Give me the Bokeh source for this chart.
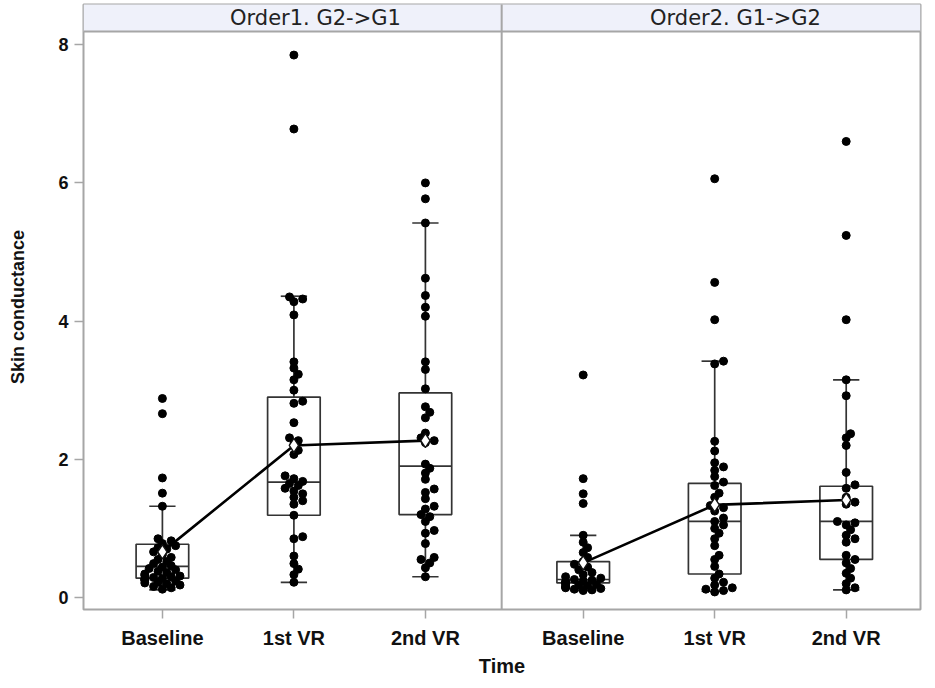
from bokeh.plotting import figure
from bokeh.models import FixedTicker, Range1d
from bokeh.core.properties import value
from bokeh.embed import file_html
from bokeh.resources import INLINE

# ---------------- data ----------------
times = ["Baseline", "1st VR", "2nd VR"]
panels = ["Order1. G2->G1", "Order2. G1->G2"]

o1_baseline = [2.88, 2.66, 1.73, 1.51, 1.32, 0.85, 0.82, 0.78, 0.75, 0.72, 0.70, 0.66,
               0.62, 0.58, 0.55, 0.52, 0.49, 0.46, 0.44, 0.42, 0.40, 0.38, 0.36, 0.34,
               0.32, 0.31, 0.30, 0.29, 0.28, 0.27, 0.26, 0.25, 0.24, 0.22, 0.21, 0.20,
               0.18, 0.16, 0.14, 0.12]
o1_vr1 = [7.85, 6.78, 4.35, 4.32, 4.28, 4.09, 3.41, 3.32, 3.23, 3.15, 3.00, 2.84, 2.81,
          2.53, 2.31, 2.27, 2.21, 2.13, 2.07, 1.76, 1.72, 1.68, 1.65, 1.62, 1.58, 1.54,
          1.50, 1.45, 1.40, 1.35, 1.19, 0.88, 0.85, 0.60, 0.49, 0.41, 0.33, 0.22]
o1_vr2 = [6.00, 5.77, 5.42, 4.62, 4.37, 4.20, 4.07, 3.41, 3.30, 3.02, 2.76, 2.68, 2.60,
          2.38, 2.31, 2.27, 2.24, 1.93, 1.87, 1.80, 1.71, 1.57, 1.52, 1.43, 1.32, 1.28,
          1.20, 1.17, 1.10, 0.97, 0.93, 0.78, 0.58, 0.55, 0.50, 0.43, 0.30]
o2_baseline = [3.22, 1.72, 1.50, 1.36, 0.90, 0.80, 0.72, 0.65, 0.58, 0.52, 0.48, 0.44,
               0.40, 0.36, 0.33, 0.30, 0.28, 0.26, 0.25, 0.24, 0.23, 0.22, 0.21, 0.20,
               0.19, 0.18, 0.17, 0.16, 0.15, 0.14, 0.13, 0.12, 0.11, 0.10]
o2_vr1 = [6.06, 4.56, 4.02, 3.42, 3.38, 2.26, 2.12, 1.95, 1.89, 1.84, 1.75, 1.67, 1.62,
          1.51, 1.45, 1.33, 1.30, 1.25, 1.15, 1.10, 1.05, 1.00, 0.93, 0.85, 0.75, 0.61,
          0.55, 0.45, 0.34, 0.28, 0.22, 0.18, 0.14, 0.12, 0.10, 0.08]
o2_vr2 = [6.60, 5.24, 4.02, 3.15, 2.92, 2.37, 2.31, 2.20, 1.81, 1.63, 1.58, 1.45, 1.38,
          1.35, 1.10, 1.08, 1.05, 0.98, 0.90, 0.85, 0.80, 0.61, 0.55, 0.50, 0.42, 0.35,
          0.28, 0.20, 0.14, 0.11]

# box statistics per panel, per time
o1_q1 = [0.28, 1.19, 1.20]
o1_med = [0.45, 1.67, 1.90]
o1_q3 = [0.77, 2.90, 2.96]
o1_lo = [0.11, 0.22, 0.30]
o1_hi = [1.32, 4.36, 5.42]
o1_mean = [0.66, 2.20, 2.27]

o2_q1 = [0.21, 0.34, 0.55]
o2_med = [0.26, 1.10, 1.10]
o2_q3 = [0.52, 1.65, 1.61]
o2_lo = [0.10, 0.09, 0.11]
o2_hi = [0.90, 3.42, 3.15]
o2_mean = [0.50, 1.34, 1.41]

y_ticks = [0, 2, 4, 6, 8]

# ---------------- layout constants ----------------
PX_X = 131.5          # pixels per x unit
PX_Y = 69.1           # pixels per y unit
X0, X1 = -0.6, 5.765
Y0, Y1 = -0.174, 8.582
DIV = 2.58
HEAD = 8.191
pos = [[0.0, 1.0, 2.0], [3.2, 4.2, 5.2]]

BOXW = 0.40
CAPW = 0.20
BOXC = "#333333"
FRAMEC = "#a6a6a6"

p = figure(width=927, height=680, output_backend="svg", toolbar_location=None,
           x_range=Range1d(X0, X1), y_range=Range1d(Y0, Y1),
           min_border_left=83, min_border_right=7, min_border_top=4,
           min_border_bottom=71)
p.xgrid.visible = False
p.ygrid.visible = False
p.background_fill_color = "white"
p.border_fill_color = "white"
p.outline_line_color = FRAMEC
p.outline_line_width = 2

# header strips
p.quad(left=[X0, DIV], right=[DIV, X1], bottom=[HEAD, HEAD], top=[Y1 + 1, Y1 + 1],
       fill_color="#eff1fa", line_color=None)
p.segment(x0=[X0], y0=[HEAD], x1=[X1], y1=[HEAD], line_color=FRAMEC, line_width=2)
p.segment(x0=[DIV], y0=[Y0 - 1], x1=[DIV], y1=[Y1 + 1], line_color=FRAMEC, line_width=2)
p.text(x=[1.164, 4.358], y=[(HEAD + Y1) / 2] * 2, text=panels,
       text_align="center", text_baseline="middle",
       text_font=value("DejaVu Sans"), text_font_size="21px", text_color="#222222")


def swarm(vals, diam=8.0):
    placed = []
    offs = [0.0] * len(vals)
    order = sorted(range(len(vals)), key=lambda i: vals[i])
    step = diam * 0.55
    for i in order:
        y = vals[i] * PX_Y
        for k in [0, 1, -1, 2, -2, 3, -3, 4, -4]:
            x = k * step
            if all((x - px) ** 2 + (y - py) ** 2 >= (diam * 0.7) ** 2 for px, py in placed):
                break
        placed.append((x, y))
        offs[i] = x / PX_X
    return offs


groups = [
    ([o1_baseline, o1_vr1, o1_vr2], o1_q1, o1_med, o1_q3, o1_lo, o1_hi, o1_mean),
    ([o2_baseline, o2_vr1, o2_vr2], o2_q1, o2_med, o2_q3, o2_lo, o2_hi, o2_mean),
]

for gi, (pts, q1, med, q3, lo, hi, mn) in enumerate(groups):
    xs = pos[gi]
    # boxes
    p.quad(left=[x - BOXW / 2 for x in xs], right=[x + BOXW / 2 for x in xs],
           bottom=q1, top=q3, fill_color=None, line_color=BOXC, line_width=1.7)
    p.segment(x0=[x - BOXW / 2 for x in xs], x1=[x + BOXW / 2 for x in xs],
              y0=med, y1=med, line_color=BOXC, line_width=1.7)
    # whiskers
    p.segment(x0=xs, x1=xs, y0=q3, y1=hi, line_color=BOXC, line_width=1.7)
    p.segment(x0=xs, x1=xs, y0=lo, y1=q1, line_color=BOXC, line_width=1.7)
    p.segment(x0=[x - CAPW / 2 for x in xs], x1=[x + CAPW / 2 for x in xs],
              y0=hi, y1=hi, line_color=BOXC, line_width=1.7)
    p.segment(x0=[x - CAPW / 2 for x in xs], x1=[x + CAPW / 2 for x in xs],
              y0=lo, y1=lo, line_color=BOXC, line_width=1.7)
    # points
    for ti, vals in enumerate(pts):
        offs = swarm(vals)
        p.scatter(x=[xs[ti] + o for o in offs], y=vals, size=8,
                  fill_color="black", line_color="black")
    # mean line and markers
    p.line(x=xs, y=mn, line_color="black", line_width=2.6)
    p.scatter(x=xs, y=mn, marker="diamond", size=14, fill_color="white",
              fill_alpha=1.0, line_color="#111111", line_width=1.4)

# axes
p.xaxis.ticker = FixedTicker(ticks=pos[0] + pos[1])
p.xaxis.major_label_overrides = {
    0: times[0], 1: times[1], 2: times[2],
    3.2: times[0], 4.2: times[1], 5.2: times[2]}
p.yaxis.ticker = FixedTicker(ticks=y_ticks)
for ax in (p.xaxis[0], p.yaxis[0]):
    ax.axis_line_color = None
    ax.major_tick_line_color = FRAMEC
    ax.major_tick_line_width = 1.5
    ax.major_tick_in = 0
    ax.minor_tick_line_color = None
    ax.major_label_text_font = "Liberation Sans"
    ax.major_label_text_font_style = "bold"
    ax.major_label_text_color = "#111111"
    ax.axis_label_text_font = "Liberation Sans"
    ax.axis_label_text_font_style = "bold"
    ax.axis_label_text_color = "#111111"

p.xaxis.axis_label = "Time"
p.xaxis.major_tick_out = 9
p.xaxis.major_label_standoff = 8
p.xaxis.major_label_text_font_size = "20px"
p.xaxis.axis_label_text_font_size = "20px"
p.xaxis.axis_label_standoff = 3

p.yaxis.axis_label = "Skin conductance"
p.yaxis.major_tick_out = 9
p.yaxis.major_label_standoff = 6
p.yaxis.major_label_text_font_size = "18px"
p.yaxis.axis_label_text_font_size = "18px"
p.yaxis.axis_label_standoff = 27

open("out.html", "w").write(file_html(p, INLINE))
